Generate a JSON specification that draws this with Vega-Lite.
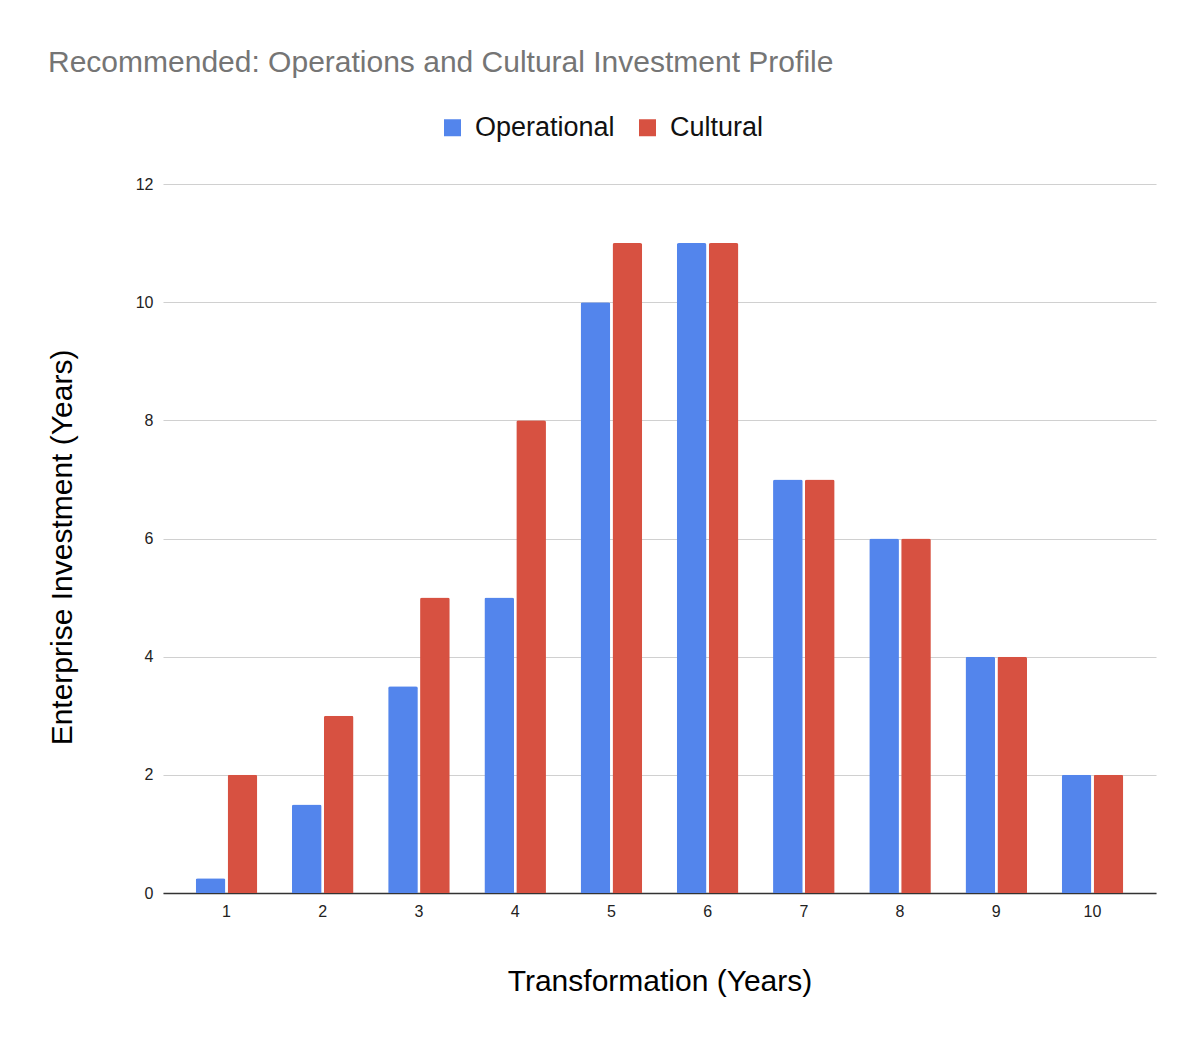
{
  "$schema": "https://vega.github.io/schema/vega-lite/v6.json",
  "width": 993,
  "height": 709,
  "autosize": "none",
  "padding": {"left": 163, "top": 184, "right": 48, "bottom": 153},
  "background": "white",
  "title": {
    "text": "Recommended: Operations and Cultural Investment Profile",
    "anchor": "start",
    "frame": "group",
    "dx": -115,
    "offset": 12,
    "baseline": "alphabetic",
    "font": "Liberation Sans",
    "fontSize": 30,
    "fontWeight": "normal",
    "color": "#757575"
  },
  "config": {
    "view": {"stroke": null},
    "font": "Liberation Sans"
  },
  "data": {
    "values": [
      {"year": 1, "series": "Operational", "value": 0.25},
      {"year": 1, "series": "Cultural", "value": 2},
      {"year": 2, "series": "Operational", "value": 1.5},
      {"year": 2, "series": "Cultural", "value": 3},
      {"year": 3, "series": "Operational", "value": 3.5},
      {"year": 3, "series": "Cultural", "value": 5},
      {"year": 4, "series": "Operational", "value": 5},
      {"year": 4, "series": "Cultural", "value": 8},
      {"year": 5, "series": "Operational", "value": 10},
      {"year": 5, "series": "Cultural", "value": 11},
      {"year": 6, "series": "Operational", "value": 11},
      {"year": 6, "series": "Cultural", "value": 11},
      {"year": 7, "series": "Operational", "value": 7},
      {"year": 7, "series": "Cultural", "value": 7},
      {"year": 8, "series": "Operational", "value": 6},
      {"year": 8, "series": "Cultural", "value": 6},
      {"year": 9, "series": "Operational", "value": 4},
      {"year": 9, "series": "Cultural", "value": 4},
      {"year": 10, "series": "Operational", "value": 2},
      {"year": 10, "series": "Cultural", "value": 2}
    ]
  },
  "mark": {"type": "bar", "cornerRadiusTopLeft": 2, "cornerRadiusTopRight": 2},
  "encoding": {
    "x": {
      "field": "year",
      "type": "ordinal",
      "scale": {"paddingInner": 0.36, "paddingOuter": 0.34},
      "axis": {
        "title": "Transformation (Years)",
        "titleFontSize": 30,
        "titleFontWeight": "normal",
        "titleColor": "#000000",
        "titlePadding": 47,
        "labelAngle": 0,
        "labelFontSize": 16,
        "labelColor": "#222222",
        "labelPadding": 10,
        "ticks": false,
        "domainColor": "#333333",
        "domainWidth": 1.5,
        "grid": false
      }
    },
    "xOffset": {
      "field": "series",
      "type": "nominal",
      "sort": ["Operational", "Cultural"],
      "scale": {"paddingInner": 0.07}
    },
    "y": {
      "field": "value",
      "type": "quantitative",
      "scale": {"domain": [0, 12], "nice": false},
      "axis": {
        "title": "Enterprise Investment (Years)",
        "titleFontSize": 30,
        "titleFontWeight": "normal",
        "titleColor": "#000000",
        "titlePadding": 58,
        "titleY": 363,
        "values": [0, 2, 4, 6, 8, 10, 12],
        "labelFontSize": 16,
        "labelColor": "#222222",
        "labelPadding": 10,
        "ticks": false,
        "domain": false,
        "gridColor": "#d0d0d0",
        "gridWidth": 1.2
      }
    },
    "color": {
      "field": "series",
      "type": "nominal",
      "scale": {"domain": ["Operational", "Cultural"], "range": ["#5385EC", "#D75141"]},
      "legend": {
        "title": null,
        "orient": "none",
        "legendX": 276,
        "legendY": -70,
        "direction": "horizontal",
        "symbolType": "square",
        "symbolSize": 289,
        "symbolStrokeWidth": 0,
        "labelFontSize": 27,
        "labelColor": "#111111",
        "labelOffset": 9,
        "columnPadding": 19
      }
    }
  }
}
